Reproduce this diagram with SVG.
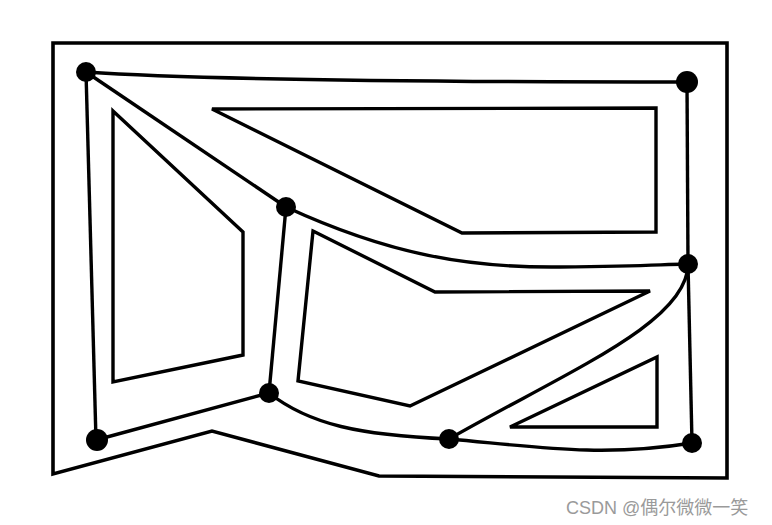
<svg xmlns="http://www.w3.org/2000/svg" width="772" height="525" viewBox="0 0 772 525">
<style>
.ln{fill:none;stroke:#000;stroke-width:3.4;stroke-linejoin:miter;stroke-linecap:butt}
.bd{fill:none;stroke:#000;stroke-width:3.6;stroke-linejoin:miter}
.nd{fill:#000}
.wm{font-family:"Liberation Sans","Noto Sans CJK SC",sans-serif;font-size:18px;fill:#9a9a9a}
</style>
<rect width="772" height="525" fill="#fff"/>
<g id="outline">
<polygon class="bd" points="53,43 727,43 727,478 379,476 212,431 53,474"/>
</g>
<g id="obstacles">
<polygon id="obs1" class="ln" points="113,111 243,232 243,355 113,382"/>
<polygon id="obs2" class="ln" points="212,109 656,108 656,232 462,233"/>
<polygon id="obs3" class="ln" points="313,231 435,292 650,291 410,406 298,381"/>
<polygon id="obs4" class="ln" points="657,357 657,427 510,427"/>
</g>
<g id="connectors">
<path class="ln" d="M86,72 Q230,82 687,82"/>
<path class="ln" d="M86,72 L96,440"/>
<path class="ln" d="M86,72 L286,207"/>
<path class="ln" d="M687,82 L688,264"/>
<path class="ln" d="M688,264 L692,443"/>
<path class="ln" d="M286,207 L269,393"/>
<path class="ln" d="M286,207 C390,255 470,268 560,267 S650,265 688,264"/>
<path class="ln" d="M269,393 L96,440"/>
<path class="ln" d="M269,393 C310,425 360,435 449,439"/>
<path class="ln" d="M449,439 C530,446 600,458 692,443"/>
<path class="ln" d="M449,439 C570,370 688,322 688,264"/>
</g>
<g id="nA"><circle class="nd" cx="86" cy="72" r="10"/></g>
<g id="nB"><circle class="nd" cx="687" cy="82" r="11"/></g>
<g id="nC"><circle class="nd" cx="286" cy="207" r="10"/></g>
<g id="nD"><circle class="nd" cx="688" cy="264" r="10"/></g>
<g id="nE"><circle class="nd" cx="269" cy="393" r="10"/></g>
<g id="nF"><circle class="nd" cx="97" cy="440" r="11"/></g>
<g id="nG"><circle class="nd" cx="449" cy="439" r="10"/></g>
<g id="nH"><circle class="nd" cx="692" cy="443" r="10"/></g>
<text class="wm" x="566" y="514">CSDN @偶尔微微一笑</text>
</svg>
